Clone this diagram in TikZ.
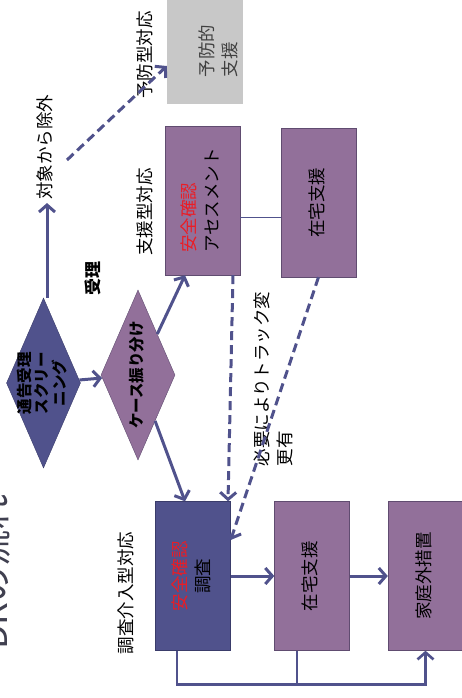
\documentclass[tikz,border=0pt]{standalone}
\usepackage{fontspec}
\usepackage{graphicx}
\setmainfont{Noto Sans CJK JP}
\usetikzlibrary{shapes.geometric,arrows.meta}
\definecolor{flowblue}{RGB}{80,82,140}
\definecolor{flowpurple}{RGB}{146,112,154}
\definecolor{purpleedge}{RGB}{96,76,112}
\definecolor{blueedge}{RGB}{58,60,106}
\definecolor{prevgray}{RGB}{200,200,200}
\definecolor{checkred}{RGB}{236,28,36}
\definecolor{titlegray}{RGB}{64,64,80}
\newcommand{\vtext}[2][c]{\rotatebox{90}{\begin{tabular}{@{}#1@{}}#2\end{tabular}}}
\begin{document}
\begin{tikzpicture}[x=1pt, y=-1pt,
		font=\fontsize{17.5}{23}\selectfont,
		box/.style={rectangle, draw=purpleedge, fill=flowpurple, minimum width=75pt, minimum height=149pt, inner sep=0pt},
		bluebox/.style={box, draw=blueedge, fill=flowblue},
		graybox/.style={rectangle, fill=prevgray, minimum width=76pt, minimum height=108pt},
		choice/.style={diamond, aspect=0.44, inner sep=-12pt, minimum width=74pt, minimum height=170pt, font=\fontsize{15.5}{15}\selectfont\bfseries},
		flow/.style={draw=flowblue, line width=3pt, -{Straight Barb[length=7pt,width=16pt]}},
		dashflow/.style={flow, dash pattern=on 9pt off 5pt},
		link/.style={draw=flowblue, line width=1.8pt}
	]
		\useasboundingbox (0,0) rectangle (461,698);
		\node[rotate=90, anchor=base, text=titlegray, font=\fontsize{36}{36}\selectfont] (title) at (8,572) {DRの流れ};
		\node[choice, fill=flowblue, draw=blueedge] (screen) at (43.5,383) {\vtext{通告受理\\スクリー\\ニング}};
		\node[choice, fill=flowpurple, draw=purpleedge] (sort) at (138,375) {\vtext{ケース振り分け}};
		\node[font=\fontsize{17}{17}\selectfont\bfseries] (juri) at (95,278) {\vtext{受理}};
		\node (exclude) at (47,147) {\vtext{対象から除外}};
		\node (prevlabel) at (147,55) {\vtext{予防型対応}};
		\node (supplabel) at (147,212) {\vtext{支援型対応}};
		\node (invlabel) at (128,593) {\vtext{調査介入型対応}};
		\node[graybox] (prevent) at (205,50) {};
		\node[text=black!75] (preventtext) at (220,51) {\vtext[l]{予防的\\支援}};
		\node[box] (assess) at (202.5,200.5) {\vtext[l]{\textcolor{checkred}{安全確認}\\アセスメント}};
		\node[box] (homeA) at (318.5,202.5) {\vtext{在宅支援}};
		\node[bluebox] (survey) at (193,576) {\vtext{\textcolor{checkred}{安全確認}\\調査}};
		\node[box] (homeB) at (312,576) {\vtext{在宅支援}};
		\node[box] (outside) at (425.5,576) {\vtext{家庭外措置}};
		\node (change) at (275,379) {\vtext[l]{必要によりトラック変\\更有}};
		\coordinate (excludeout) at (67,160);
		\draw[flow] (screen) -- (sort);
		\draw[flow] (exclude.south |- screen.north) -- (exclude.south);
		\draw[dashflow] (excludeout) -- ([yshift=-16pt]prevent.west);
		\draw[flow] (sort) -- ([xshift=-17.5pt]assess.south);
		\draw[flow] (sort) -- ([xshift=-8pt]survey.north);
		\draw[link, line width=1.3pt] ([yshift=-17pt]assess.east) -- ([yshift=-17pt]assess.east -| homeA.west);
		\draw[dashflow] ([xshift=30.5pt]assess.south) -- ([xshift=35pt]survey.north);
		\draw[dashflow] (homeA.south) -- ([yshift=36pt]survey.east);
		\draw[flow] (survey) -- (homeB);
		\draw[flow] (homeB) -- (outside);
		\draw[flow, line width=2.6pt] ([xshift=-16pt]survey.south) -- ++(0,34) -| (outside.south);
		\draw[link] ([xshift=-15pt]homeB.south) -- ++(0,34);
	\end{tikzpicture}
\end{document}
